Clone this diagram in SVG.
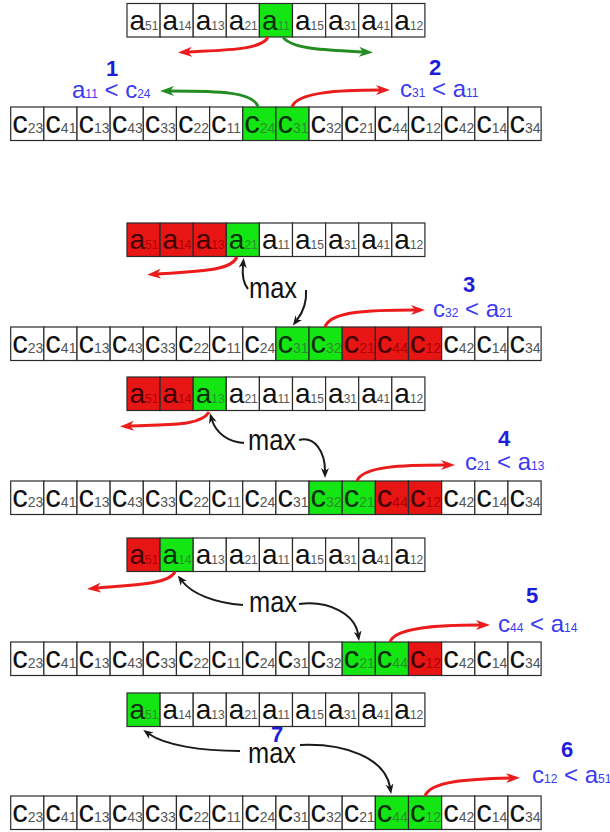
<svg xmlns="http://www.w3.org/2000/svg" width="610" height="832" viewBox="0 0 610 832">
<style>
  .cell rect { fill: #ffffff; stroke: #2b2b2b; stroke-width: 1.2; }
  .cell.g rect { fill: #14e614; }
  .cell.r rect { fill: #e81515; }
  .cell text { font-family: "Liberation Sans", Arial, sans-serif; fill: #111111; }
  .cell .sub { fill: #555555; }
  .cell.g text { fill: #0b2e0b; }
  .cell.g .sub { fill: #2b8f2b; }
  .cell.r text { fill: #3e0000; }
  .cell.r .sub { fill: #b00000; }
  .ta { font-size: 28px; }
  .ta .sub { font-size: 12px; }
  .tc { font-size: 31px; }
  .tc .sub { font-size: 14px; }
  .lbl { font-family: "Liberation Sans", Arial, sans-serif; font-size: 24px; fill: #3a3af0; }
  .lbl .sub { font-size: 12px; }
  .num { font-family: "Liberation Sans", Arial, sans-serif; font-size: 22px; font-weight: bold; fill: #1c1cdc; text-anchor: middle; }
  .max { font-family: "Liberation Sans", Arial, sans-serif; font-size: 30px; fill: #111111; }
  .red { fill: none; stroke: #ec1c1c; stroke-width: 3; marker-end: url(#head-red); }
  .grn { fill: none; stroke: #238c23; stroke-width: 3; marker-end: url(#head-grn); }
  .blk { fill: none; stroke: #1a1a1a; stroke-width: 2; marker-end: url(#head-blk); }
</style>
<defs>
  <marker id="head-red" viewBox="0 0 14 10" refX="4" refY="5" markerWidth="14" markerHeight="10" markerUnits="userSpaceOnUse" orient="auto">
    <path d="M0,0 L14,5 L0,10 L4,5 z" fill="#ec1c1c"/>
  </marker>
  <marker id="head-grn" viewBox="0 0 14 10" refX="4" refY="5" markerWidth="14" markerHeight="10" markerUnits="userSpaceOnUse" orient="auto">
    <path d="M0,0 L14,5 L0,10 L4,5 z" fill="#238c23"/>
  </marker>
  <marker id="head-blk" viewBox="0 0 10 8" refX="3" refY="4" markerWidth="10" markerHeight="8" markerUnits="userSpaceOnUse" orient="auto">
    <path d="M0,0 L10,4 L0,8 L3,4 z" fill="#1a1a1a"/>
  </marker>
</defs>
<rect width="610" height="832" fill="#ffffff"/>

<!-- step 1 -->
<g id="row-a1" transform="translate(127,3.5)">
  <g class="cell"><rect x="0" width="33.1" height="33.5"/><text class="ta" x="2.5" y="26">a<tspan class="sub">51</tspan></text></g>
  <g class="cell"><rect x="33.1" width="33.1" height="33.5"/><text class="ta" x="35.6" y="26">a<tspan class="sub">14</tspan></text></g>
  <g class="cell"><rect x="66.2" width="33.1" height="33.5"/><text class="ta" x="68.7" y="26">a<tspan class="sub">13</tspan></text></g>
  <g class="cell"><rect x="99.3" width="33.1" height="33.5"/><text class="ta" x="101.8" y="26">a<tspan class="sub">21</tspan></text></g>
  <g class="cell g"><rect x="132.4" width="33.1" height="33.5"/><text class="ta" x="134.9" y="26">a<tspan class="sub">11</tspan></text></g>
  <g class="cell"><rect x="165.5" width="33.1" height="33.5"/><text class="ta" x="168" y="26">a<tspan class="sub">15</tspan></text></g>
  <g class="cell"><rect x="198.6" width="33.1" height="33.5"/><text class="ta" x="201.1" y="26">a<tspan class="sub">31</tspan></text></g>
  <g class="cell"><rect x="231.7" width="33.1" height="33.5"/><text class="ta" x="234.2" y="26">a<tspan class="sub">41</tspan></text></g>
  <g class="cell"><rect x="264.8" width="33.1" height="33.5"/><text class="ta" x="267.3" y="26">a<tspan class="sub">12</tspan></text></g>
</g>
<g id="row-c1" transform="translate(10.7,107)">
  <g class="cell"><rect x="0" width="33.15" height="33.5"/><text class="tc" x="1.5" y="26">c<tspan class="sub">23</tspan></text></g>
  <g class="cell"><rect x="33.15" width="33.15" height="33.5"/><text class="tc" x="34.65" y="26">c<tspan class="sub">41</tspan></text></g>
  <g class="cell"><rect x="66.3" width="33.15" height="33.5"/><text class="tc" x="67.8" y="26">c<tspan class="sub">13</tspan></text></g>
  <g class="cell"><rect x="99.45" width="33.15" height="33.5"/><text class="tc" x="100.95" y="26">c<tspan class="sub">43</tspan></text></g>
  <g class="cell"><rect x="132.6" width="33.15" height="33.5"/><text class="tc" x="134.1" y="26">c<tspan class="sub">33</tspan></text></g>
  <g class="cell"><rect x="165.75" width="33.15" height="33.5"/><text class="tc" x="167.25" y="26">c<tspan class="sub">22</tspan></text></g>
  <g class="cell"><rect x="198.9" width="33.15" height="33.5"/><text class="tc" x="200.4" y="26">c<tspan class="sub">11</tspan></text></g>
  <g class="cell g"><rect x="232.05" width="33.15" height="33.5"/><text class="tc" x="233.55" y="26">c<tspan class="sub">24</tspan></text></g>
  <g class="cell g"><rect x="265.2" width="33.15" height="33.5"/><text class="tc" x="266.7" y="26">c<tspan class="sub">31</tspan></text></g>
  <g class="cell"><rect x="298.35" width="33.15" height="33.5"/><text class="tc" x="299.85" y="26">c<tspan class="sub">32</tspan></text></g>
  <g class="cell"><rect x="331.5" width="33.15" height="33.5"/><text class="tc" x="333" y="26">c<tspan class="sub">21</tspan></text></g>
  <g class="cell"><rect x="364.65" width="33.15" height="33.5"/><text class="tc" x="366.15" y="26">c<tspan class="sub">44</tspan></text></g>
  <g class="cell"><rect x="397.8" width="33.15" height="33.5"/><text class="tc" x="399.3" y="26">c<tspan class="sub">12</tspan></text></g>
  <g class="cell"><rect x="430.95" width="33.15" height="33.5"/><text class="tc" x="432.45" y="26">c<tspan class="sub">42</tspan></text></g>
  <g class="cell"><rect x="464.1" width="33.15" height="33.5"/><text class="tc" x="465.6" y="26">c<tspan class="sub">14</tspan></text></g>
  <g class="cell"><rect x="497.25" width="33.15" height="33.5"/><text class="tc" x="498.75" y="26">c<tspan class="sub">34</tspan></text></g>
</g>

<!-- step 3 -->
<g id="row-a2" transform="translate(127,223)">
  <g class="cell r"><rect x="0" width="33.1" height="33.5"/><text class="ta" x="2.5" y="26">a<tspan class="sub">51</tspan></text></g>
  <g class="cell r"><rect x="33.1" width="33.1" height="33.5"/><text class="ta" x="35.6" y="26">a<tspan class="sub">14</tspan></text></g>
  <g class="cell r"><rect x="66.2" width="33.1" height="33.5"/><text class="ta" x="68.7" y="26">a<tspan class="sub">13</tspan></text></g>
  <g class="cell g"><rect x="99.3" width="33.1" height="33.5"/><text class="ta" x="101.8" y="26">a<tspan class="sub">21</tspan></text></g>
  <g class="cell"><rect x="132.4" width="33.1" height="33.5"/><text class="ta" x="134.9" y="26">a<tspan class="sub">11</tspan></text></g>
  <g class="cell"><rect x="165.5" width="33.1" height="33.5"/><text class="ta" x="168" y="26">a<tspan class="sub">15</tspan></text></g>
  <g class="cell"><rect x="198.6" width="33.1" height="33.5"/><text class="ta" x="201.1" y="26">a<tspan class="sub">31</tspan></text></g>
  <g class="cell"><rect x="231.7" width="33.1" height="33.5"/><text class="ta" x="234.2" y="26">a<tspan class="sub">41</tspan></text></g>
  <g class="cell"><rect x="264.8" width="33.1" height="33.5"/><text class="ta" x="267.3" y="26">a<tspan class="sub">12</tspan></text></g>
</g>
<g id="row-c2" transform="translate(10.7,327)">
  <g class="cell"><rect x="0" width="33.15" height="33.5"/><text class="tc" x="1.5" y="26">c<tspan class="sub">23</tspan></text></g>
  <g class="cell"><rect x="33.15" width="33.15" height="33.5"/><text class="tc" x="34.65" y="26">c<tspan class="sub">41</tspan></text></g>
  <g class="cell"><rect x="66.3" width="33.15" height="33.5"/><text class="tc" x="67.8" y="26">c<tspan class="sub">13</tspan></text></g>
  <g class="cell"><rect x="99.45" width="33.15" height="33.5"/><text class="tc" x="100.95" y="26">c<tspan class="sub">43</tspan></text></g>
  <g class="cell"><rect x="132.6" width="33.15" height="33.5"/><text class="tc" x="134.1" y="26">c<tspan class="sub">33</tspan></text></g>
  <g class="cell"><rect x="165.75" width="33.15" height="33.5"/><text class="tc" x="167.25" y="26">c<tspan class="sub">22</tspan></text></g>
  <g class="cell"><rect x="198.9" width="33.15" height="33.5"/><text class="tc" x="200.4" y="26">c<tspan class="sub">11</tspan></text></g>
  <g class="cell"><rect x="232.05" width="33.15" height="33.5"/><text class="tc" x="233.55" y="26">c<tspan class="sub">24</tspan></text></g>
  <g class="cell g"><rect x="265.2" width="33.15" height="33.5"/><text class="tc" x="266.7" y="26">c<tspan class="sub">31</tspan></text></g>
  <g class="cell g"><rect x="298.35" width="33.15" height="33.5"/><text class="tc" x="299.85" y="26">c<tspan class="sub">32</tspan></text></g>
  <g class="cell r"><rect x="331.5" width="33.15" height="33.5"/><text class="tc" x="333" y="26">c<tspan class="sub">21</tspan></text></g>
  <g class="cell r"><rect x="364.65" width="33.15" height="33.5"/><text class="tc" x="366.15" y="26">c<tspan class="sub">44</tspan></text></g>
  <g class="cell r"><rect x="397.8" width="33.15" height="33.5"/><text class="tc" x="399.3" y="26">c<tspan class="sub">12</tspan></text></g>
  <g class="cell"><rect x="430.95" width="33.15" height="33.5"/><text class="tc" x="432.45" y="26">c<tspan class="sub">42</tspan></text></g>
  <g class="cell"><rect x="464.1" width="33.15" height="33.5"/><text class="tc" x="465.6" y="26">c<tspan class="sub">14</tspan></text></g>
  <g class="cell"><rect x="497.25" width="33.15" height="33.5"/><text class="tc" x="498.75" y="26">c<tspan class="sub">34</tspan></text></g>
</g>

<!-- step 4 -->
<g id="row-a3" transform="translate(127,377)">
  <g class="cell r"><rect x="0" width="33.1" height="33.5"/><text class="ta" x="2.5" y="26">a<tspan class="sub">51</tspan></text></g>
  <g class="cell r"><rect x="33.1" width="33.1" height="33.5"/><text class="ta" x="35.6" y="26">a<tspan class="sub">14</tspan></text></g>
  <g class="cell g"><rect x="66.2" width="33.1" height="33.5"/><text class="ta" x="68.7" y="26">a<tspan class="sub">13</tspan></text></g>
  <g class="cell"><rect x="99.3" width="33.1" height="33.5"/><text class="ta" x="101.8" y="26">a<tspan class="sub">21</tspan></text></g>
  <g class="cell"><rect x="132.4" width="33.1" height="33.5"/><text class="ta" x="134.9" y="26">a<tspan class="sub">11</tspan></text></g>
  <g class="cell"><rect x="165.5" width="33.1" height="33.5"/><text class="ta" x="168" y="26">a<tspan class="sub">15</tspan></text></g>
  <g class="cell"><rect x="198.6" width="33.1" height="33.5"/><text class="ta" x="201.1" y="26">a<tspan class="sub">31</tspan></text></g>
  <g class="cell"><rect x="231.7" width="33.1" height="33.5"/><text class="ta" x="234.2" y="26">a<tspan class="sub">41</tspan></text></g>
  <g class="cell"><rect x="264.8" width="33.1" height="33.5"/><text class="ta" x="267.3" y="26">a<tspan class="sub">12</tspan></text></g>
</g>
<g id="row-c3" transform="translate(10.7,481)">
  <g class="cell"><rect x="0" width="33.15" height="33.5"/><text class="tc" x="1.5" y="26">c<tspan class="sub">23</tspan></text></g>
  <g class="cell"><rect x="33.15" width="33.15" height="33.5"/><text class="tc" x="34.65" y="26">c<tspan class="sub">41</tspan></text></g>
  <g class="cell"><rect x="66.3" width="33.15" height="33.5"/><text class="tc" x="67.8" y="26">c<tspan class="sub">13</tspan></text></g>
  <g class="cell"><rect x="99.45" width="33.15" height="33.5"/><text class="tc" x="100.95" y="26">c<tspan class="sub">43</tspan></text></g>
  <g class="cell"><rect x="132.6" width="33.15" height="33.5"/><text class="tc" x="134.1" y="26">c<tspan class="sub">33</tspan></text></g>
  <g class="cell"><rect x="165.75" width="33.15" height="33.5"/><text class="tc" x="167.25" y="26">c<tspan class="sub">22</tspan></text></g>
  <g class="cell"><rect x="198.9" width="33.15" height="33.5"/><text class="tc" x="200.4" y="26">c<tspan class="sub">11</tspan></text></g>
  <g class="cell"><rect x="232.05" width="33.15" height="33.5"/><text class="tc" x="233.55" y="26">c<tspan class="sub">24</tspan></text></g>
  <g class="cell"><rect x="265.2" width="33.15" height="33.5"/><text class="tc" x="266.7" y="26">c<tspan class="sub">31</tspan></text></g>
  <g class="cell g"><rect x="298.35" width="33.15" height="33.5"/><text class="tc" x="299.85" y="26">c<tspan class="sub">32</tspan></text></g>
  <g class="cell g"><rect x="331.5" width="33.15" height="33.5"/><text class="tc" x="333" y="26">c<tspan class="sub">21</tspan></text></g>
  <g class="cell r"><rect x="364.65" width="33.15" height="33.5"/><text class="tc" x="366.15" y="26">c<tspan class="sub">44</tspan></text></g>
  <g class="cell r"><rect x="397.8" width="33.15" height="33.5"/><text class="tc" x="399.3" y="26">c<tspan class="sub">12</tspan></text></g>
  <g class="cell"><rect x="430.95" width="33.15" height="33.5"/><text class="tc" x="432.45" y="26">c<tspan class="sub">42</tspan></text></g>
  <g class="cell"><rect x="464.1" width="33.15" height="33.5"/><text class="tc" x="465.6" y="26">c<tspan class="sub">14</tspan></text></g>
  <g class="cell"><rect x="497.25" width="33.15" height="33.5"/><text class="tc" x="498.75" y="26">c<tspan class="sub">34</tspan></text></g>
</g>

<!-- step 5 -->
<g id="row-a4" transform="translate(127,538)">
  <g class="cell r"><rect x="0" width="33.1" height="33.5"/><text class="ta" x="2.5" y="26">a<tspan class="sub">51</tspan></text></g>
  <g class="cell g"><rect x="33.1" width="33.1" height="33.5"/><text class="ta" x="35.6" y="26">a<tspan class="sub">14</tspan></text></g>
  <g class="cell"><rect x="66.2" width="33.1" height="33.5"/><text class="ta" x="68.7" y="26">a<tspan class="sub">13</tspan></text></g>
  <g class="cell"><rect x="99.3" width="33.1" height="33.5"/><text class="ta" x="101.8" y="26">a<tspan class="sub">21</tspan></text></g>
  <g class="cell"><rect x="132.4" width="33.1" height="33.5"/><text class="ta" x="134.9" y="26">a<tspan class="sub">11</tspan></text></g>
  <g class="cell"><rect x="165.5" width="33.1" height="33.5"/><text class="ta" x="168" y="26">a<tspan class="sub">15</tspan></text></g>
  <g class="cell"><rect x="198.6" width="33.1" height="33.5"/><text class="ta" x="201.1" y="26">a<tspan class="sub">31</tspan></text></g>
  <g class="cell"><rect x="231.7" width="33.1" height="33.5"/><text class="ta" x="234.2" y="26">a<tspan class="sub">41</tspan></text></g>
  <g class="cell"><rect x="264.8" width="33.1" height="33.5"/><text class="ta" x="267.3" y="26">a<tspan class="sub">12</tspan></text></g>
</g>
<g id="row-c4" transform="translate(10.7,642)">
  <g class="cell"><rect x="0" width="33.15" height="33.5"/><text class="tc" x="1.5" y="26">c<tspan class="sub">23</tspan></text></g>
  <g class="cell"><rect x="33.15" width="33.15" height="33.5"/><text class="tc" x="34.65" y="26">c<tspan class="sub">41</tspan></text></g>
  <g class="cell"><rect x="66.3" width="33.15" height="33.5"/><text class="tc" x="67.8" y="26">c<tspan class="sub">13</tspan></text></g>
  <g class="cell"><rect x="99.45" width="33.15" height="33.5"/><text class="tc" x="100.95" y="26">c<tspan class="sub">43</tspan></text></g>
  <g class="cell"><rect x="132.6" width="33.15" height="33.5"/><text class="tc" x="134.1" y="26">c<tspan class="sub">33</tspan></text></g>
  <g class="cell"><rect x="165.75" width="33.15" height="33.5"/><text class="tc" x="167.25" y="26">c<tspan class="sub">22</tspan></text></g>
  <g class="cell"><rect x="198.9" width="33.15" height="33.5"/><text class="tc" x="200.4" y="26">c<tspan class="sub">11</tspan></text></g>
  <g class="cell"><rect x="232.05" width="33.15" height="33.5"/><text class="tc" x="233.55" y="26">c<tspan class="sub">24</tspan></text></g>
  <g class="cell"><rect x="265.2" width="33.15" height="33.5"/><text class="tc" x="266.7" y="26">c<tspan class="sub">31</tspan></text></g>
  <g class="cell"><rect x="298.35" width="33.15" height="33.5"/><text class="tc" x="299.85" y="26">c<tspan class="sub">32</tspan></text></g>
  <g class="cell g"><rect x="331.5" width="33.15" height="33.5"/><text class="tc" x="333" y="26">c<tspan class="sub">21</tspan></text></g>
  <g class="cell g"><rect x="364.65" width="33.15" height="33.5"/><text class="tc" x="366.15" y="26">c<tspan class="sub">44</tspan></text></g>
  <g class="cell r"><rect x="397.8" width="33.15" height="33.5"/><text class="tc" x="399.3" y="26">c<tspan class="sub">12</tspan></text></g>
  <g class="cell"><rect x="430.95" width="33.15" height="33.5"/><text class="tc" x="432.45" y="26">c<tspan class="sub">42</tspan></text></g>
  <g class="cell"><rect x="464.1" width="33.15" height="33.5"/><text class="tc" x="465.6" y="26">c<tspan class="sub">14</tspan></text></g>
  <g class="cell"><rect x="497.25" width="33.15" height="33.5"/><text class="tc" x="498.75" y="26">c<tspan class="sub">34</tspan></text></g>
</g>

<!-- steps 6 and 7 -->
<g id="row-a5" transform="translate(127,693)">
  <g class="cell g"><rect x="0" width="33.1" height="33.5"/><text class="ta" x="2.5" y="26">a<tspan class="sub">51</tspan></text></g>
  <g class="cell"><rect x="33.1" width="33.1" height="33.5"/><text class="ta" x="35.6" y="26">a<tspan class="sub">14</tspan></text></g>
  <g class="cell"><rect x="66.2" width="33.1" height="33.5"/><text class="ta" x="68.7" y="26">a<tspan class="sub">13</tspan></text></g>
  <g class="cell"><rect x="99.3" width="33.1" height="33.5"/><text class="ta" x="101.8" y="26">a<tspan class="sub">21</tspan></text></g>
  <g class="cell"><rect x="132.4" width="33.1" height="33.5"/><text class="ta" x="134.9" y="26">a<tspan class="sub">11</tspan></text></g>
  <g class="cell"><rect x="165.5" width="33.1" height="33.5"/><text class="ta" x="168" y="26">a<tspan class="sub">15</tspan></text></g>
  <g class="cell"><rect x="198.6" width="33.1" height="33.5"/><text class="ta" x="201.1" y="26">a<tspan class="sub">31</tspan></text></g>
  <g class="cell"><rect x="231.7" width="33.1" height="33.5"/><text class="ta" x="234.2" y="26">a<tspan class="sub">41</tspan></text></g>
  <g class="cell"><rect x="264.8" width="33.1" height="33.5"/><text class="ta" x="267.3" y="26">a<tspan class="sub">12</tspan></text></g>
</g>
<g id="row-c5" transform="translate(10.7,796)">
  <g class="cell"><rect x="0" width="33.15" height="33.5"/><text class="tc" x="1.5" y="26">c<tspan class="sub">23</tspan></text></g>
  <g class="cell"><rect x="33.15" width="33.15" height="33.5"/><text class="tc" x="34.65" y="26">c<tspan class="sub">41</tspan></text></g>
  <g class="cell"><rect x="66.3" width="33.15" height="33.5"/><text class="tc" x="67.8" y="26">c<tspan class="sub">13</tspan></text></g>
  <g class="cell"><rect x="99.45" width="33.15" height="33.5"/><text class="tc" x="100.95" y="26">c<tspan class="sub">43</tspan></text></g>
  <g class="cell"><rect x="132.6" width="33.15" height="33.5"/><text class="tc" x="134.1" y="26">c<tspan class="sub">33</tspan></text></g>
  <g class="cell"><rect x="165.75" width="33.15" height="33.5"/><text class="tc" x="167.25" y="26">c<tspan class="sub">22</tspan></text></g>
  <g class="cell"><rect x="198.9" width="33.15" height="33.5"/><text class="tc" x="200.4" y="26">c<tspan class="sub">11</tspan></text></g>
  <g class="cell"><rect x="232.05" width="33.15" height="33.5"/><text class="tc" x="233.55" y="26">c<tspan class="sub">24</tspan></text></g>
  <g class="cell"><rect x="265.2" width="33.15" height="33.5"/><text class="tc" x="266.7" y="26">c<tspan class="sub">31</tspan></text></g>
  <g class="cell"><rect x="298.35" width="33.15" height="33.5"/><text class="tc" x="299.85" y="26">c<tspan class="sub">32</tspan></text></g>
  <g class="cell"><rect x="331.5" width="33.15" height="33.5"/><text class="tc" x="333" y="26">c<tspan class="sub">21</tspan></text></g>
  <g class="cell g"><rect x="364.65" width="33.15" height="33.5"/><text class="tc" x="366.15" y="26">c<tspan class="sub">44</tspan></text></g>
  <g class="cell g"><rect x="397.8" width="33.15" height="33.5"/><text class="tc" x="399.3" y="26">c<tspan class="sub">12</tspan></text></g>
  <g class="cell"><rect x="430.95" width="33.15" height="33.5"/><text class="tc" x="432.45" y="26">c<tspan class="sub">42</tspan></text></g>
  <g class="cell"><rect x="464.1" width="33.15" height="33.5"/><text class="tc" x="465.6" y="26">c<tspan class="sub">14</tspan></text></g>
  <g class="cell"><rect x="497.25" width="33.15" height="33.5"/><text class="tc" x="498.75" y="26">c<tspan class="sub">34</tspan></text></g>
</g>

<!-- comparison labels and step numbers -->
<g id="labels">
  <text class="num" x="112" y="76">1</text>
  <text class="lbl" x="72" y="98">a<tspan class="sub">11</tspan> &lt; c<tspan class="sub">24</tspan></text>
  <text class="num" x="435" y="75">2</text>
  <text class="lbl" x="400" y="97">c<tspan class="sub">31</tspan> &lt; a<tspan class="sub">11</tspan></text>
  <text class="num" x="469" y="292">3</text>
  <text class="lbl" x="433" y="317">c<tspan class="sub">32</tspan> &lt; a<tspan class="sub">21</tspan></text>
  <text class="num" x="504" y="446">4</text>
  <text class="lbl" x="465" y="470">c<tspan class="sub">21</tspan> &lt; a<tspan class="sub">13</tspan></text>
  <text class="num" x="532" y="603">5</text>
  <text class="lbl" x="498" y="632">c<tspan class="sub">44</tspan> &lt; a<tspan class="sub">14</tspan></text>
  <text class="num" x="567" y="757">6</text>
  <text class="lbl" x="532" y="783">c<tspan class="sub">12</tspan> &lt; a<tspan class="sub">51</tspan></text>
  <text class="num" x="277" y="742">7</text>
  <text class="max" x="249" y="298" textLength="48" lengthAdjust="spacingAndGlyphs">max</text>
  <text class="max" x="248" y="450" textLength="48" lengthAdjust="spacingAndGlyphs">max</text>
  <text class="max" x="249" y="612" textLength="48" lengthAdjust="spacingAndGlyphs">max</text>
  <text class="max" x="248" y="763" textLength="48" lengthAdjust="spacingAndGlyphs">max</text>
</g>

<!-- connectors -->
<g id="connectors">
  <path class="red" d="M268,37 C262,50 225,50 188,52"/>
  <path class="grn" d="M283,37 C292,50 330,50 363,52"/>
  <path class="grn" d="M258,107 C254,92 220,91 170,91"/>
  <path class="red" d="M292,107 C297,92 340,90 380,90"/>

  <path class="red" d="M237,257 C230,272 195,271 157,274"/>
  <path class="red" d="M325,327 C330,311 370,310 415,310"/>
  <path class="blk" d="M248,289 C243,283 242,275 243,265"/>
  <path class="blk" d="M306,290 C307,303 303,312 297,320"/>

  <path class="red" d="M209,412 C200,427 165,424 130,426"/>
  <path class="red" d="M357,481 C362,466 405,465 445,465"/>
  <path class="blk" d="M244,443 C228,442 216,433 212,420"/>
  <path class="blk" d="M299,440 C315,436 325,452 325,471"/>

  <path class="red" d="M175,572 C168,585 130,585 97,588"/>
  <path class="red" d="M390,642 C395,627 440,625 480,625"/>
  <path class="blk" d="M243,605 C215,603 192,594 182,581"/>
  <path class="blk" d="M299,604 C330,600 355,615 358,634"/>

  <path class="red" d="M425,796 C430,781 470,779 510,778"/>
  <path class="blk" d="M240,751 C200,751 165,745 149,734"/>
  <path class="blk" d="M300,745 C345,743 385,758 390,787"/>
</g>
</svg>
